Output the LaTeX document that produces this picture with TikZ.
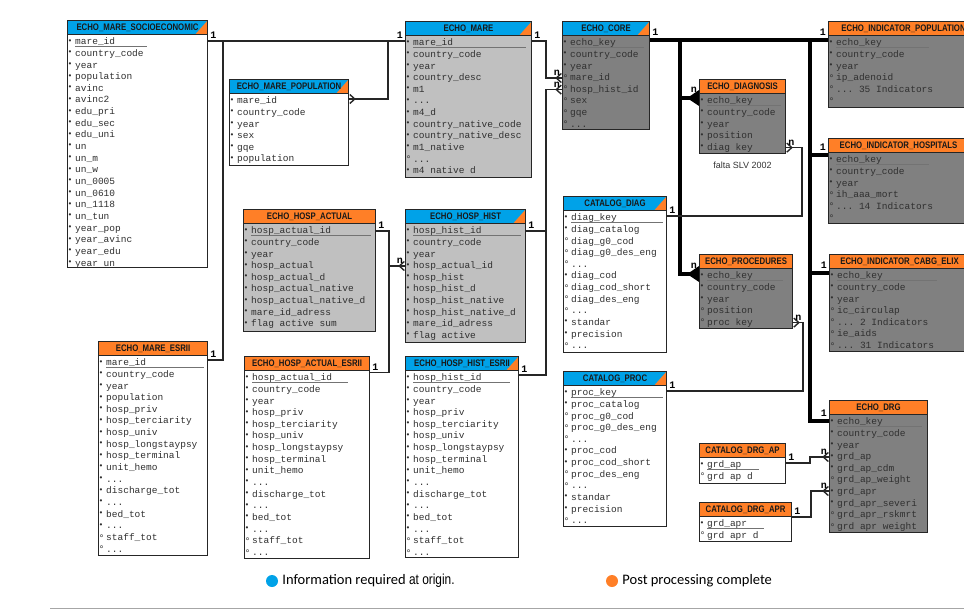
\documentclass[tikz,border=0pt]{standalone}
\usepackage{fontspec}
\usepackage{graphicx}
\setmonofont{Liberation Mono}
\newfontfamily\headfont[FakeStretch=0.82]{Liberation Sans}
\newfontfamily\notefont{Liberation Sans}
\newfontfamily\legendfont{Carlito}
\usetikzlibrary{positioning, arrows.meta}

\definecolor{origin}{RGB}{0,162,232}
\definecolor{post}{RGB}{255,127,39}
\definecolor{lightbody}{RGB}{192,192,192}
\definecolor{darkbody}{RGB}{128,128,128}
\definecolor{rowtext}{RGB}{48,48,48}

% field marks (mandatory / optional) and primary key underline
\newcommand\fldreq{\makebox[8pt][l]{\hspace{0.5pt}\raisebox{1.6pt}{\scalebox{0.85}{•}}}\rule[-3.15pt]{0pt}{11.65pt}}
\newcommand\fldopt{\makebox[8pt][l]{\hspace{0.5pt}\raisebox{-0.6pt}{\scalebox{1.05}{°}}}\rule[-3.15pt]{0pt}{11.65pt}}
\newcommand\keyfld[2]{\rlap{\textcolor{black!55}{\rule[-2.2pt]{#1pt}{0.6pt}}}#2}

\begin{document}
\begin{tikzpicture}[
    x=1pt, y=-1pt,
    tbl/.style={draw=black!85, line width=1.1pt, anchor=north west, inner sep=0pt},
    hd/.style={tbl, minimum height=13.5pt, text=black!90,
        font=\headfont\bfseries\fontsize{9.5}{10}\selectfont},
    corner/.style={path picture={
        \fill[post] ([xshift=-12pt]path picture bounding box.south east)
            -- (path picture bounding box.north east)
            -- (path picture bounding box.south east) -- cycle;}},
    rows/.style={anchor=north west, inner sep=0pt, align=left, text=rowtext,
        font=\ttfamily\fontsize{9.5}{11.65}\selectfont},
    link/.style={draw=black!85, line width=1.4pt},
    core link/.style={draw=black, line width=4.5pt},
    many/.style={postaction={draw, line width=1.4pt, -{Straight Barb[reversed, length=5pt, width=9pt]}}},
    many core/.style={-{Triangle[reversed, length=12pt, width=15pt]}},
    card/.style={inner sep=2pt, font=\ttfamily\bfseries\fontsize{10}{10}\selectfont},
    dot/.style={circle, inner sep=0pt, minimum size=12pt},
    legend/.style={inner sep=0pt, font=\legendfont\fontsize{14.5}{16}\selectfont}
]
    \useasboundingbox (0,0) rectangle (964,611);

    % --- MARE TABLES ---
    \node[tbl, fill=white, minimum width=140pt, minimum height=247pt] (socio) at (67,20) {};
    \node[hd, fill=origin, corner, minimum width=140pt] (socio-h) at (socio.north west) {ECHO\_MARE\_SOCIOECONOMIC};
    \node[rows] (socio-r) at ([yshift=-16pt]socio.north west)
        {\fldreq\keyfld{72}{mare\_id}\\\fldreq country\_code\\\fldreq year\\\fldreq population\\\fldreq avinc\\\fldreq avinc2\\\fldreq edu\_pri\\\fldreq edu\_sec\\\fldreq edu\_uni\\\fldreq un\\\fldreq un\_m\\\fldreq un\_w\\\fldreq un\_0005\\\fldreq un\_0610\\\fldreq un\_1118\\\fldreq un\_tun\\\fldreq year\_pop\\\fldreq year\_avinc\\\fldreq year\_edu\\\fldreq year un};

    \node[tbl, fill=white, minimum width=119pt, minimum height=86pt] (pop) at (229,79) {};
    \node[hd, fill=origin, corner, minimum width=119pt] (pop-h) at (pop.north west) {ECHO\_MARE\_POPULATION};
    \node[rows] (pop-r) at ([yshift=-16pt]pop.north west)
        {\fldreq mare\_id\\\fldreq country\_code\\\fldreq year\\\fldreq sex\\\fldreq gqe\\\fldreq population};

    \node[tbl, fill=lightbody, minimum width=126pt, minimum height=156pt] (mare) at (405,21) {};
    \node[hd, fill=origin, corner, minimum width=126pt] (mare-h) at (mare.north west) {ECHO\_MARE};
    \node[rows] (mare-r) at ([yshift=-16pt]mare.north west)
        {\fldreq\keyfld{113}{mare\_id}\\\fldreq country\_code\\\fldreq year\\\fldreq country\_desc\\\fldreq m1\\\fldreq ...\\\fldreq m4\_d\\\fldreq country\_native\_code\\\fldreq country\_native\_desc\\\fldreq m1\_native\\\fldopt ...\\\fldreq m4 native d};

    \node[tbl, fill=white, minimum width=109pt, minimum height=214pt] (mesrii) at (98,341) {};
    \node[hd, fill=post, minimum width=109pt] (mesrii-h) at (mesrii.north west) {ECHO\_MARE\_ESRII};
    \node[rows] (mesrii-r) at ([yshift=-16pt]mesrii.north west)
        {\fldreq\keyfld{98}{mare\_id}\\\fldreq country\_code\\\fldreq year\\\fldreq population\\\fldreq hosp\_priv\\\fldreq hosp\_terciarity\\\fldreq hosp\_univ\\\fldreq hosp\_longstaypsy\\\fldreq hosp\_terminal\\\fldreq unit\_hemo\\\fldreq ...\\\fldreq discharge\_tot\\\fldreq ...\\\fldreq bed\_tot\\\fldreq ...\\\fldopt staff\_tot\\\fldopt ...};

    % --- HOSPITAL TABLES ---
    \node[tbl, fill=lightbody, minimum width=132pt, minimum height=122pt] (hosp_actual) at (243,209) {};
    \node[hd, fill=post, minimum width=132pt] (hosp_actual-h) at (hosp_actual.north west) {ECHO\_HOSP\_ACTUAL};
    \node[rows] (hosp_actual-r) at ([yshift=-16pt]hosp_actual.north west)
        {\fldreq\keyfld{120}{hosp\_actual\_id}\\\fldreq country\_code\\\fldreq year\\\fldreq hosp\_actual\\\fldreq hosp\_actual\_d\\\fldreq hosp\_actual\_native\\\fldreq hosp\_actual\_native\_d\\\fldreq mare\_id\_adress\\\fldreq flag active sum};

    \node[tbl, fill=lightbody, minimum width=120pt, minimum height=133pt] (hosp_hist) at (405,209) {};
    \node[hd, fill=origin, corner, minimum width=120pt] (hosp_hist-h) at (hosp_hist.north west) {ECHO\_HOSP\_HIST};
    \node[rows] (hosp_hist-r) at ([yshift=-16pt]hosp_hist.north west)
        {\fldreq\keyfld{108}{hosp\_hist\_id}\\\fldreq country\_code\\\fldreq year\\\fldreq hosp\_actual\_id\\\fldreq hosp\_hist\\\fldreq hosp\_hist\_d\\\fldreq hosp\_hist\_native\\\fldreq hosp\_hist\_native\_d\\\fldreq mare\_id\_adress\\\fldreq flag active};

    \node[tbl, fill=white, minimum width=125pt, minimum height=202pt] (haesrii) at (244,356) {};
    \node[hd, fill=post, minimum width=125pt] (haesrii-h) at (haesrii.north west) {ECHO\_HOSP\_ACTUAL\_ESRII};
    \node[rows] (haesrii-r) at ([yshift=-16pt]haesrii.north west)
        {\fldreq\keyfld{96}{hosp\_actual\_id}\\\fldreq country\_code\\\fldreq year\\\fldreq hosp\_priv\\\fldreq hosp\_terciarity\\\fldreq hosp\_univ\\\fldreq hosp\_longstaypsy\\\fldreq hosp\_terminal\\\fldreq unit\_hemo\\\fldreq ...\\\fldreq discharge\_tot\\\fldreq ...\\\fldreq bed\_tot\\\fldreq ...\\\fldopt staff\_tot\\\fldopt ...};

    \node[tbl, fill=white, minimum width=113pt, minimum height=201pt] (hhesrii) at (405,356) {};
    \node[hd, fill=origin, corner, minimum width=113pt] (hhesrii-h) at (hhesrii.north west) {ECHO\_HOSP\_HIST\_ESRII};
    \node[rows] (hhesrii-r) at ([yshift=-16pt]hhesrii.north west)
        {\fldreq\keyfld{97}{hosp\_hist\_id}\\\fldreq country\_code\\\fldreq year\\\fldreq hosp\_priv\\\fldreq hosp\_terciarity\\\fldreq hosp\_univ\\\fldreq hosp\_longstaypsy\\\fldreq hosp\_terminal\\\fldreq unit\_hemo\\\fldreq ...\\\fldreq discharge\_tot\\\fldreq ...\\\fldreq bed\_tot\\\fldreq ...\\\fldopt staff\_tot\\\fldopt ...};

    % --- CORE AND CATALOGS ---
    \node[tbl, fill=darkbody, minimum width=87pt, minimum height=108pt] (core) at (562,21) {};
    \node[hd, fill=origin, corner, minimum width=87pt] (core-h) at (core.north west) {ECHO\_CORE};
    \node[rows] (core-r) at ([yshift=-16pt]core.north west)
        {\fldreq\keyfld{74}{echo\_key}\\\fldreq country\_code\\\fldreq year\\\fldopt mare\_id\\\fldopt hosp\_hist\_id\\\fldopt sex\\\fldopt gqe\\\fldopt ...};

    \node[tbl, fill=white, minimum width=103pt, minimum height=156pt] (cdiag) at (563,196) {};
    \node[hd, fill=origin, corner, minimum width=103pt] (cdiag-h) at (cdiag.north west) {CATALOG\_DIAG};
    \node[rows] (cdiag-r) at ([yshift=-16pt]cdiag.north west)
        {\fldreq\keyfld{92}{diag\_key}\\\fldreq diag\_catalog\\\fldopt diag\_g0\_cod\\\fldopt diag\_g0\_des\_eng\\\fldopt ...\\\fldreq diag\_cod\\\fldopt diag\_cod\_short\\\fldopt diag\_des\_eng\\\fldopt ...\\\fldreq standar\\\fldreq precision\\\fldopt ...};

    \node[tbl, fill=white, minimum width=103pt, minimum height=155pt] (cproc) at (563,371) {};
    \node[hd, fill=origin, corner, minimum width=103pt] (cproc-h) at (cproc.north west) {CATALOG\_PROC};
    \node[rows] (cproc-r) at ([yshift=-16pt]cproc.north west)
        {\fldreq\keyfld{92}{proc\_key}\\\fldreq proc\_catalog\\\fldopt proc\_g0\_cod\\\fldopt proc\_g0\_des\_eng\\\fldopt ...\\\fldreq proc\_cod\\\fldreq proc\_cod\_short\\\fldopt proc\_des\_eng\\\fldopt ...\\\fldreq standar\\\fldreq precision\\\fldopt ...};

    \node[tbl, fill=darkbody, minimum width=86pt, minimum height=74pt] (diagnosis) at (699,79) {};
    \node[hd, fill=post, minimum width=86pt] (diagnosis-h) at (diagnosis.north west) {ECHO\_DIAGNOSIS};
    \node[rows] (diagnosis-r) at ([yshift=-16pt]diagnosis.north west)
        {\fldreq\keyfld{74}{echo\_key}\\\fldreq country\_code\\\fldreq year\\\fldreq position\\\fldreq diag key};
    \node[inner sep=0pt, below=8pt of diagnosis, font=\notefont\fontsize{9}{10}\selectfont, text=black!80] (falta) {falta SLV 2002};

    \node[tbl, fill=darkbody, minimum width=93pt, minimum height=74pt] (procedures) at (699,254) {};
    \node[hd, fill=post, minimum width=93pt] (procedures-h) at (procedures.north west) {ECHO\_PROCEDURES};
    \node[rows] (procedures-r) at ([yshift=-16pt]procedures.north west)
        {\fldreq\keyfld{76}{echo\_key}\\\fldreq country\_code\\\fldreq year\\\fldopt position\\\fldopt proc key};

    \node[tbl, fill=white, minimum width=86pt, minimum height=40pt] (drg_ap) at (699,443) {};
    \node[hd, fill=post, minimum width=86pt] (drg_ap-h) at (drg_ap.north west) {CATALOG\_DRG\_AP};
    \node[rows] (drg_ap-r) at ([yshift=-16pt]drg_ap.north west)
        {\fldreq\keyfld{52}{grd\_ap}\\\fldopt grd ap d};

    \node[tbl, fill=white, minimum width=92pt, minimum height=39pt] (drg_apr) at (699,502) {};
    \node[hd, fill=post, minimum width=92pt] (drg_apr-h) at (drg_apr.north west) {CATALOG\_DRG\_APR};
    \node[rows] (drg_apr-r) at ([yshift=-16pt]drg_apr.north west)
        {\fldreq\keyfld{57}{grd\_apr}\\\fldopt grd apr d};

    % --- INDICATOR TABLES (right column) ---
    \node[tbl, fill=darkbody, minimum width=150pt, minimum height=86pt] (ind_pop) at (828,21) {};
    \node[hd, fill=post, minimum width=150pt] (ind_pop-h) at (ind_pop.north west) {ECHO\_INDICATOR\_POPULATION};
    \node[rows] (ind_pop-r) at ([yshift=-16pt]ind_pop.north west)
        {\fldreq\keyfld{93}{echo\_key}\\\fldreq country\_code\\\fldreq year\\\fldopt ip\_adenoid\\\fldopt ... 35 Indicators\\\fldopt};

    \node[tbl, fill=darkbody, minimum width=140pt, minimum height=85pt] (ind_hosp) at (828,138) {};
    \node[hd, fill=post, minimum width=140pt] (ind_hosp-h) at (ind_hosp.north west) {ECHO\_INDICATOR\_HOSPITALS};
    \node[rows] (ind_hosp-r) at ([yshift=-16pt]ind_hosp.north west)
        {\fldreq\keyfld{93}{echo\_key}\\\fldreq country\_code\\\fldreq year\\\fldopt ih\_aaa\_mort\\\fldopt ... 14 Indicators\\\fldopt};

    \node[tbl, fill=darkbody, minimum width=140pt, minimum height=97pt] (cabg) at (829,254) {};
    \node[hd, fill=post, minimum width=140pt] (cabg-h) at (cabg.north west) {ECHO\_INDICATOR\_CABG\_ELIX};
    \node[rows] (cabg-r) at ([yshift=-16pt]cabg.north west)
        {\fldreq\keyfld{100}{echo\_key}\\\fldreq country\_code\\\fldreq year\\\fldopt ic\_circulap\\\fldopt ... 2 Indicators\\\fldopt ie\_aids\\\fldopt ... 31 Indicators};

    \node[tbl, fill=darkbody, minimum width=98pt, minimum height=132pt] (drg) at (829,400) {};
    \node[hd, fill=post, minimum width=98pt] (drg-h) at (drg.north west) {ECHO\_DRG};
    \node[rows] (drg-r) at ([yshift=-16pt]drg.north west)
        {\fldreq\keyfld{85}{echo\_key}\\\fldreq country\_code\\\fldreq year\\\fldreq grd\_ap\\\fldreq grd\_ap\_cdm\\\fldopt grd\_ap\_weight\\\fldreq grd\_apr\\\fldreq grd\_apr\_severi\\\fldopt grd\_apr\_rskmrt\\\fldopt grd apr weight};

    % --- MARE RELATIONS ---
    \coordinate (mare-k) at ([yshift=-20pt]mare.north west);
    \coordinate (mare-bus) at ([xshift=15pt]socio.east |- mare-k);
    \draw[link] (mare-k) -- (socio.east |- mare-k);
    \draw[link] ([yshift=-19pt]mesrii.north east) -| (mare-bus);
    \draw[link, many] ([xshift=-17pt]mare-k) |- ([yshift=-20pt]pop.north east);
    \node[card, anchor=south west] (c1) at (socio.east |- mare-k) {1};
    \node[card, anchor=south east] (c2) at (mare-k) {1};
    \node[card, anchor=south west] (c3) at ([yshift=-19pt]mesrii.north east) {1};

    \draw[link, many] ([yshift=-20pt]mare.north east) -- ++(14,0) |- ([yshift=-57pt]core.north west);
    \node[card, anchor=south west] (c4) at ([yshift=-20pt]mare.north east) {1};
    \node[card, anchor=south east] (c5) at ([yshift=-57pt]core.north west) {n};

    % --- HOSPITAL RELATIONS ---
    \draw[link, many] ([yshift=-22pt]hosp_hist.north east) -- ++(20,0) |- ([yshift=-68.6pt]core.north west);
    \draw[link] ([yshift=-19pt]hhesrii.north east) -| ([xshift=20pt, yshift=-22pt]hosp_hist.north east);
    \node[card, anchor=south west] (c6) at ([yshift=-22pt]hosp_hist.north east) {1};
    \node[card, anchor=south east] (c7) at ([yshift=-68.6pt]core.north west) {n};
    \node[card, anchor=south west] (c8) at ([yshift=-19pt]hhesrii.north east) {1};

    \draw[link, many] ([yshift=-22pt]hosp_actual.north east) -- ++(13,0) |- ([yshift=-57pt]hosp_hist.north west);
    \draw[link] ([yshift=-16.5pt]haesrii.north east) -| ([xshift=13pt, yshift=-22pt]hosp_actual.north east);
    \node[card, anchor=south west] (c9) at ([yshift=-22pt]hosp_actual.north east) {1};
    \node[card, anchor=south east] (c10) at ([yshift=-57pt]hosp_hist.north west) {n};
    \node[card, anchor=south west] (c11) at ([yshift=-16.5pt]haesrii.north east) {1};

    % --- ECHO_KEY BACKBONE ---
    \coordinate (core-k) at ([yshift=-19pt]core.north east);
    \coordinate (bus-l) at ([xshift=30pt]core-k);
    \coordinate (bus-r) at ([xshift=-18pt]ind_pop.west |- core-k);
    \draw[core link] (core-k) -- (ind_pop.west |- core-k);
    \draw[core link, many core] (bus-l) |- ([yshift=-19pt]diagnosis.north west);
    \draw[core link, many core] (bus-l) |- ([yshift=-20pt]procedures.north west);
    \draw[core link] (bus-r) |- ([yshift=-17pt]ind_hosp.north west);
    \draw[core link] (bus-r) |- ([yshift=-19pt]cabg.north west);
    \draw[core link] (bus-r) |- ([yshift=-21pt]drg.north west);
    \node[card, anchor=south west, yshift=2pt] (c12) at (core-k) {1};
    \node[card, anchor=south east, yshift=2pt] (c13) at (ind_pop.west |- core-k) {1};
    \node[card, anchor=south east, yshift=3pt] (c14) at ([yshift=-19pt]diagnosis.north west) {n};
    \node[card, anchor=south east, yshift=3pt] (c15) at ([yshift=-20pt]procedures.north west) {n};
    \node[card, anchor=south east, yshift=2pt] (c16) at ([yshift=-17pt]ind_hosp.north west) {1};
    \node[card, anchor=south east, yshift=2pt] (c17) at ([yshift=-19pt]cabg.north west) {1};
    \node[card, anchor=south east, yshift=2pt] (c18) at ([yshift=-21pt]drg.north west) {1};

    % --- CATALOG RELATIONS ---
    \draw[link, many] ([yshift=-20pt]cdiag.north east) -| ([xshift=16pt, yshift=-68.6pt]diagnosis.north east) -- ([yshift=-68.6pt]diagnosis.north east);
    \node[card, anchor=south west] (c19) at ([yshift=-20pt]cdiag.north east) {1};
    \node[card, anchor=south west] (c20) at ([yshift=-68.6pt]diagnosis.north east) {n};

    \draw[link, many] ([yshift=-20pt]cproc.north east) -| ([xshift=10pt, yshift=-68.6pt]procedures.north east) -- ([yshift=-68.6pt]procedures.north east);
    \node[card, anchor=south west] (c21) at ([yshift=-20pt]cproc.north east) {1};
    \node[card, anchor=south west] (c22) at ([yshift=-68.6pt]procedures.north east) {n};

    \draw[link, many] ([yshift=-20pt]drg_ap.north east) -- ++(24,0) |- ([yshift=-57pt]drg.north west);
    \node[card, anchor=south west] (c23) at ([yshift=-20pt]drg_ap.north east) {1};
    \node[card, anchor=south east] (c24) at ([yshift=-57pt]drg.north west) {n};

    \draw[link, many] ([yshift=-15pt]drg_apr.north east) -- ++(19,0) |- ([yshift=-91pt]drg.north west);
    \node[card, anchor=south west] (c25) at ([yshift=-15pt]drg_apr.north east) {1};
    \node[card, anchor=south east] (c26) at ([yshift=-91pt]drg.north west) {n};

    % --- LEGEND ---
    \node[dot, fill=origin] (key-origin) at (272,581) {};
    \node[legend, right=4pt of key-origin] (key-origin-text) {Information required {\headfont at origin.}};
    \node[dot, fill=post] (key-post) at (612,581) {};
    \node[legend, right=4pt of key-post] (key-post-text) {Post processing complete};
    \draw[black!35] (50,608) -- (964,608);

\end{tikzpicture}
\end{document}
